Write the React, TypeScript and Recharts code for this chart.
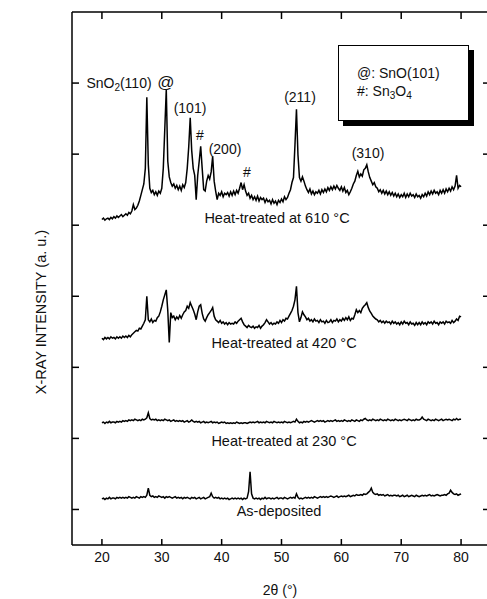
import React from 'react';
import { LineChart, Line, XAxis, YAxis } from 'recharts';

const xTicks = [20, 30, 40, 50, 60, 70, 80];
const yTicks = [0.5, 1.5, 2.5, 3.5, 4.5, 5.5, 6.5];

// 2θ sampling grid: 20° .. 80°, 0.25° step (241 points)
const twoTheta = Array.from({ length: 241 }, (_, i) => 20 + i * 0.25);

// intensities (a.u., each pattern offset vertically), one row per degree
const asDeposited = [
  0.65, 0.66, 0.64, 0.66, 0.65, 0.67, 0.65, 0.66, 0.66, 0.65, 0.67, 0.66, 0.67, 0.66, 0.67, 0.66,
  0.67, 0.66, 0.68, 0.67, 0.66, 0.67, 0.66, 0.68, 0.67, 0.66, 0.68, 0.67, 0.68, 0.67, 0.70, 0.80,
  0.70, 0.68, 0.69, 0.67, 0.68, 0.67, 0.69, 0.68, 0.67, 0.68, 0.66, 0.68, 0.67, 0.68, 0.67, 0.66,
  0.67, 0.68, 0.66, 0.67, 0.66, 0.67, 0.65, 0.67, 0.66, 0.67, 0.66, 0.65, 0.67, 0.66, 0.67, 0.65,
  0.66, 0.67, 0.65, 0.66, 0.67, 0.65, 0.66, 0.67, 0.68, 0.73, 0.68, 0.66, 0.67, 0.66, 0.67, 0.65,
  0.66, 0.65, 0.66, 0.65, 0.66, 0.64, 0.65, 0.66, 0.65, 0.66, 0.65, 0.66, 0.65, 0.66, 0.64, 0.66,
  0.65, 0.66, 0.75, 1.03, 0.72, 0.66, 0.65, 0.66, 0.65, 0.66, 0.64, 0.66, 0.65, 0.67, 0.65, 0.66,
  0.66, 0.65, 0.66, 0.65, 0.66, 0.67, 0.65, 0.66, 0.66, 0.65, 0.67, 0.66, 0.65, 0.66, 0.67, 0.66,
  0.67, 0.66, 0.72, 0.67, 0.65, 0.66, 0.65, 0.66, 0.67, 0.66, 0.67, 0.66, 0.67, 0.66, 0.68, 0.67,
  0.66, 0.67, 0.68, 0.67, 0.68, 0.67, 0.68, 0.67, 0.68, 0.69, 0.68, 0.67, 0.68, 0.69, 0.67, 0.68,
  0.69, 0.68, 0.69, 0.68, 0.69, 0.70, 0.68, 0.69, 0.70, 0.69, 0.71, 0.70, 0.70, 0.71, 0.70, 0.72,
  0.71, 0.72, 0.74, 0.76, 0.80, 0.74, 0.72, 0.71, 0.72, 0.70, 0.71, 0.70, 0.71, 0.69, 0.70, 0.71,
  0.69, 0.70, 0.69, 0.70, 0.70, 0.69, 0.70, 0.68, 0.69, 0.70, 0.68, 0.69, 0.70, 0.68, 0.69, 0.70,
  0.69, 0.68, 0.70, 0.69, 0.68, 0.69, 0.70, 0.69, 0.70, 0.69, 0.70, 0.71, 0.69, 0.70, 0.69, 0.70,
  0.71, 0.70, 0.69, 0.70, 0.70, 0.71, 0.70, 0.72, 0.73, 0.77, 0.74, 0.72, 0.71, 0.72, 0.70, 0.71,
  0.72,
];

const heat230 = [
  1.72, 1.73, 1.71, 1.73, 1.72, 1.74, 1.72, 1.73, 1.73, 1.72, 1.74, 1.73, 1.74, 1.73, 1.75, 1.74,
  1.75, 1.74, 1.76, 1.75, 1.76, 1.75, 1.77, 1.76, 1.75, 1.76, 1.75, 1.77, 1.76, 1.77, 1.79, 1.86,
  1.78, 1.76, 1.77, 1.76, 1.77, 1.75, 1.76, 1.75, 1.76, 1.75, 1.77, 1.76, 1.75, 1.76, 1.74, 1.75,
  1.76, 1.74, 1.75, 1.74, 1.75, 1.74, 1.75, 1.73, 1.74, 1.75, 1.73, 1.74, 1.76, 1.74, 1.73, 1.74,
  1.73, 1.74, 1.72, 1.73, 1.74, 1.72, 1.73, 1.72, 1.73, 1.74, 1.72, 1.73, 1.72, 1.73, 1.71, 1.72,
  1.73, 1.72, 1.73, 1.71, 1.72, 1.71, 1.72, 1.71, 1.72, 1.71, 1.73, 1.72, 1.71, 1.72, 1.71, 1.72,
  1.72, 1.71, 1.72, 1.73, 1.72, 1.73, 1.72, 1.73, 1.74, 1.72, 1.73, 1.72, 1.73, 1.72, 1.74, 1.73,
  1.72, 1.73, 1.72, 1.74, 1.73, 1.72, 1.73, 1.72, 1.73, 1.72, 1.74, 1.73, 1.72, 1.73, 1.72, 1.73,
  1.74, 1.73, 1.77, 1.74, 1.72, 1.73, 1.72, 1.74, 1.73, 1.74, 1.73, 1.74, 1.75, 1.74, 1.73, 1.74,
  1.75, 1.74, 1.75, 1.74, 1.75, 1.73, 1.74, 1.75, 1.74, 1.75, 1.74, 1.75, 1.76, 1.74, 1.75, 1.74,
  1.75, 1.74, 1.76, 1.75, 1.74, 1.75, 1.74, 1.76, 1.75, 1.74, 1.76, 1.75, 1.74, 1.76, 1.75, 1.77,
  1.78, 1.76, 1.75, 1.76, 1.75, 1.77, 1.76, 1.75, 1.76, 1.75, 1.77, 1.76, 1.75, 1.76, 1.75, 1.77,
  1.76, 1.75, 1.76, 1.75, 1.77, 1.76, 1.75, 1.76, 1.75, 1.76, 1.77, 1.76, 1.75, 1.77, 1.76, 1.75,
  1.76, 1.75, 1.77, 1.76, 1.76, 1.77, 1.80, 1.77, 1.76, 1.75, 1.77, 1.76, 1.75, 1.76, 1.75, 1.77,
  1.76, 1.75, 1.76, 1.77, 1.75, 1.76, 1.77, 1.76, 1.77, 1.76, 1.75, 1.77, 1.76, 1.78, 1.76, 1.77,
  1.77,
];

const heat420 = [
  2.91, 2.89, 2.92, 2.90, 2.92, 2.90, 2.93, 2.91, 2.92, 2.90, 2.93, 2.91, 2.93, 2.91, 2.94, 2.92,
  2.94, 2.92, 2.95, 2.93, 2.96, 2.98, 3.00, 3.02, 3.01, 3.05, 3.04, 3.08, 3.12, 3.17, 3.50, 3.17,
  3.14, 3.18, 3.13, 3.16, 3.15, 3.20, 3.22, 3.28, 3.36, 3.45, 3.52, 3.59, 3.30, 2.85, 3.27, 3.20,
  3.22, 3.17, 3.21, 3.18, 3.23, 3.19, 3.24, 3.28, 3.30, 3.36, 3.33, 3.41, 3.36, 3.31, 3.25, 3.17,
  3.28, 3.36, 3.38, 3.26, 3.18, 3.15, 3.20, 3.24, 3.27, 3.30, 3.34, 3.22, 3.17, 3.15, 3.13, 3.16,
  3.12, 3.14, 3.11, 3.13, 3.10, 3.13, 3.11, 3.12, 3.11, 3.14, 3.12, 3.15, 3.17, 3.19, 3.14, 3.10,
  3.08, 3.06, 3.09, 3.07, 3.06, 3.08, 3.05, 3.07, 3.06, 3.09, 3.05, 3.08, 3.10, 3.13, 3.17, 3.14,
  3.11, 3.13, 3.10, 3.12, 3.11, 3.14, 3.12, 3.16, 3.13, 3.17, 3.15, 3.19, 3.18, 3.22, 3.26, 3.30,
  3.36, 3.45, 3.64, 3.27, 3.14, 3.20, 3.28, 3.24, 3.21, 3.17, 3.19, 3.15, 3.17, 3.14, 3.18, 3.15,
  3.16, 3.13, 3.17, 3.14, 3.15, 3.12, 3.16, 3.13, 3.14, 3.17, 3.13, 3.16, 3.15, 3.18, 3.14, 3.17,
  3.15, 3.19, 3.16, 3.20, 3.17, 3.21, 3.16, 3.19, 3.18, 3.24, 3.31, 3.27, 3.30, 3.27, 3.33, 3.36,
  3.38, 3.41, 3.34, 3.29, 3.26, 3.22, 3.20, 3.18, 3.17, 3.14, 3.16, 3.13, 3.15, 3.12, 3.15, 3.13,
  3.14, 3.11, 3.15, 3.12, 3.14, 3.11, 3.13, 3.10, 3.14, 3.11, 3.15, 3.12, 3.13, 3.10, 3.14, 3.11,
  3.12, 3.09, 3.13, 3.10, 3.13, 3.10, 3.14, 3.11, 3.13, 3.10, 3.14, 3.12, 3.14, 3.11, 3.15, 3.12,
  3.13, 3.10, 3.14, 3.12, 3.14, 3.11, 3.15, 3.13, 3.14, 3.12, 3.16, 3.13, 3.15, 3.18, 3.16, 3.22,
  3.21,
];

const heat610 = [
  4.58, 4.60, 4.57, 4.59, 4.60, 4.58, 4.61, 4.59, 4.62, 4.60, 4.63, 4.61, 4.63, 4.65, 4.62, 4.64,
  4.66, 4.64, 4.68, 4.66, 4.70, 4.79, 4.72, 4.74, 4.78, 4.84, 4.92, 5.00, 5.08, 5.30, 6.30, 5.35,
  5.02, 4.96, 4.99, 4.93, 4.97, 4.92, 4.98, 4.95, 5.02, 5.30, 5.85, 6.41, 5.40, 5.18, 5.10, 5.05,
  5.08, 5.02, 5.06, 5.00, 5.05, 4.99, 5.07, 5.03, 5.10, 5.30, 5.60, 6.01, 5.55, 5.30, 5.20, 4.86,
  5.20, 5.40, 5.61, 5.30, 5.00, 4.98, 5.12, 5.20, 5.15, 5.25, 5.47, 5.12, 4.98, 4.86, 4.95, 4.92,
  4.97, 4.90, 4.95, 4.93, 4.96, 4.91, 4.97, 4.92, 4.98, 4.93, 4.99, 4.95, 5.02, 5.10, 5.00, 5.07,
  4.98, 4.92, 4.95, 4.88, 4.92, 4.86, 4.90, 4.85, 4.91, 4.84, 4.89, 4.86, 4.88, 4.82, 4.87, 4.83,
  4.85, 4.80, 4.86, 4.81, 4.84, 4.79, 4.85, 4.82, 4.87, 4.83, 4.90, 4.86, 4.89, 4.95, 5.00, 5.10,
  5.17, 5.63, 6.13, 5.49, 5.17, 5.12, 5.18, 5.12, 5.05, 5.00, 4.96, 5.01, 4.94, 4.98, 4.93, 4.97,
  4.95, 4.99, 4.94, 5.00, 4.96, 5.01, 4.97, 5.03, 4.99, 5.04, 5.00, 5.05, 5.01, 5.06, 5.02, 4.99,
  5.04, 4.98, 5.03, 4.96, 4.99, 4.93, 4.97, 5.02, 5.08, 5.12, 5.20, 5.26, 5.18, 5.22, 5.19, 5.28,
  5.30, 5.35, 5.25, 5.17, 5.12, 5.07, 5.10, 5.04, 5.02, 4.97, 5.00, 4.95, 4.99, 4.94, 4.98, 4.93,
  4.97, 4.92, 4.96, 4.91, 4.95, 4.90, 4.94, 4.89, 4.93, 4.90, 4.95, 4.89, 4.94, 4.90, 4.95, 4.91,
  4.93, 4.89, 4.94, 4.90, 4.92, 4.88, 4.93, 4.90, 4.95, 4.91, 4.97, 4.93, 4.98, 4.94, 4.99, 4.95,
  4.97, 4.93, 4.99, 4.95, 5.00, 4.95, 5.01, 4.97, 5.02, 4.98, 5.04, 5.00, 5.05, 5.20, 5.02, 5.06,
  5.04,
];

const patterns = [
  { name: 'As-deposited', values: asDeposited },
  { name: 'Heat-treated at 230 °C', values: heat230 },
  { name: 'Heat-treated at 420 °C', values: heat420 },
  { name: 'Heat-treated at 610 °C', values: heat610 },
];

const font = '"Liberation Sans", Arial, Helvetica, sans-serif';
const ink = '#111';
const frame = { stroke: '#000', strokeWidth: 1.5 };

// label only; the inward tick mark itself comes from tickLine with a negative tickSize
const BottomLabel = ({ x, y, payload }: any) => (
  <text x={x} y={y + 23} textAnchor="middle" fontSize={14} fontFamily={font} fill={ink}>
    {payload.value}
  </text>
);
// axes without labels still need a tick renderer, otherwise no tick lines are drawn
const NoLabel = () => <g />;

// text placed by its centre
function Note({ x, y, size = 14, children }: { x: number; y: number; size?: number; children: React.ReactNode }) {
  return (
    <div
      style={{
        position: 'absolute',
        left: x,
        top: y,
        transform: 'translate(-50%, -50%)',
        fontFamily: font,
        fontSize: size,
        color: ink,
        lineHeight: 1,
        whiteSpace: 'nowrap',
      }}
    >
      {children}
    </div>
  );
}

const sub: React.CSSProperties = { fontSize: 10, verticalAlign: -3, lineHeight: 0 };

export default function App() {
  return (
    <div style={{ position: 'absolute', left: 0, top: 0, width: 487, height: 599, overflow: 'hidden', background: '#fff' }}>
      <LineChart width={500} height={599} margin={{ top: 11, right: 8, bottom: 24, left: 71 }}>
        <XAxis
          type="number"
          dataKey="t"
          domain={[15, 85]}
          ticks={xTicks}
          allowDataOverflow
          height={30}
          tickSize={-6}
          tickMargin={0}
          tick={<BottomLabel />}
          axisLine={frame}
          tickLine={frame}
          interval={0}
        />
        <XAxis
          xAxisId="top"
          orientation="top"
          type="number"
          dataKey="t"
          domain={[15, 85]}
          ticks={xTicks}
          allowDataOverflow
          height={1}
          tickSize={-7}
          tick={<NoLabel />}
          axisLine={frame}
          tickLine={frame}
          interval={0}
        />
        <YAxis
          type="number"
          domain={[0, 7.5]}
          ticks={yTicks}
          allowDataOverflow
          width={1}
          tickSize={-7}
          tick={<NoLabel />}
          axisLine={frame}
          tickLine={frame}
          interval={0}
        />
        <YAxis
          yAxisId="right"
          orientation="right"
          type="number"
          domain={[0, 7.5]}
          ticks={yTicks}
          allowDataOverflow
          width={1}
          tickSize={-8}
          tick={<NoLabel />}
          axisLine={frame}
          tickLine={frame}
          interval={0}
        />
        {patterns.map((p) => (
          <Line
            key={p.name}
            name={p.name}
            data={twoTheta.map((t, i) => ({ t, v: p.values[i] }))}
            dataKey="v"
            type="linear"
            stroke="#000"
            strokeWidth={1.5}
            dot={false}
            isAnimationActive={false}
          />
        ))}
      </LineChart>

      {/* axis titles */}
      <Note x={280} y={590} size={14}>2θ (°)</Note>
      <div
        style={{
          position: 'absolute',
          left: 41,
          top: 312,
          transform: 'translate(-50%, -50%) rotate(-90deg)',
          fontFamily: font,
          fontSize: 14.5,
          color: ink,
          whiteSpace: 'nowrap',
          lineHeight: 1,
        }}
      >
        X-RAY INTENSITY (a. u.)
      </div>

      {/* pattern labels */}
      <Note x={277} y={218} size={14.5}>Heat-treated at 610 °C</Note>
      <Note x={284} y={343} size={14.5}>Heat-treated at 420 °C</Note>
      <Note x={284} y={441} size={14.5}>Heat-treated at 230 °C</Note>
      <Note x={279} y={511} size={14.5}>As-deposited</Note>

      {/* peak labels */}
      <Note x={119} y={83}>
        SnO<span style={sub}>2</span>(110)
      </Note>
      <Note x={166} y={82} size={17}>@</Note>
      <Note x={190} y={108}>(101)</Note>
      <Note x={200} y={135}>#</Note>
      <Note x={225} y={149}>(200)</Note>
      <Note x={247} y={172}>#</Note>
      <Note x={300} y={97}>(211)</Note>
      <Note x={368} y={153}>(310)</Note>

      {/* legend box */}
      <div
        style={{
          position: 'absolute',
          left: 338,
          top: 45,
          width: 129,
          height: 74,
          border: '1px solid #000',
          background: '#fff',
          boxShadow: '5px 5px 0 #000',
          fontFamily: font,
          fontSize: 14,
          color: ink,
          lineHeight: 1,
        }}
      >
        <div style={{ position: 'absolute', left: 18, top: 20, whiteSpace: 'nowrap' }}>@: SnO(101)</div>
        <div style={{ position: 'absolute', left: 18, top: 38, whiteSpace: 'nowrap' }}>
          #: Sn<span style={sub}>3</span>O<span style={sub}>4</span>
        </div>
      </div>
    </div>
  );
}
